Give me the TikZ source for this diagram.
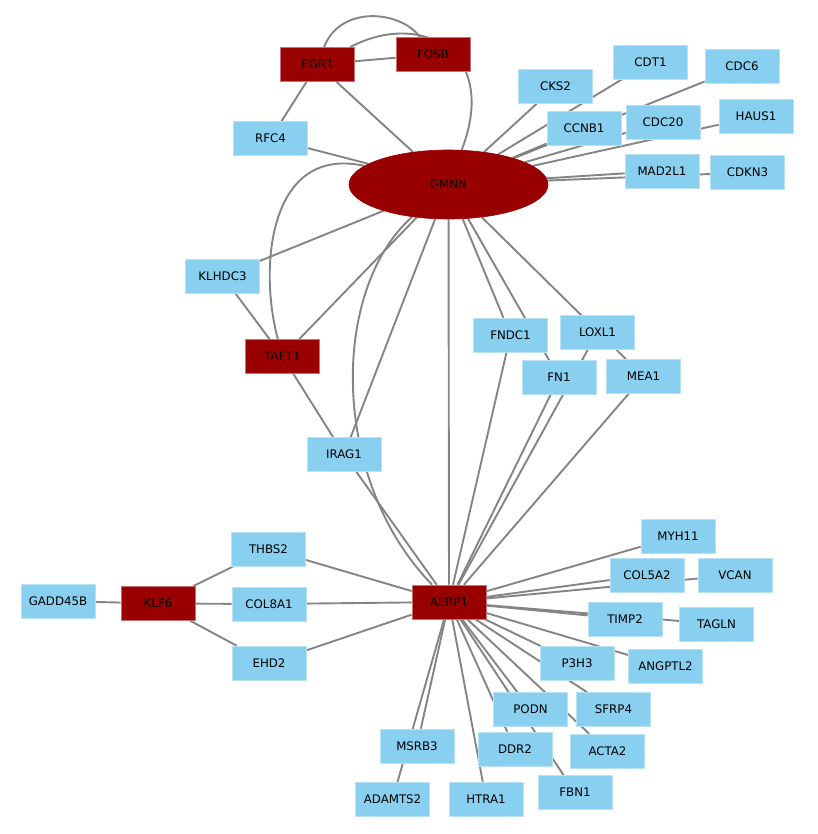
\documentclass[tikz,border=0pt]{standalone}
\usepackage{fontspec}
\setmainfont{DejaVu Sans}
\usepackage{xcolor}
\usetikzlibrary{shapes.geometric,backgrounds}
\definecolor{geneblue}{RGB}{137,207,240}
\definecolor{hubred}{RGB}{153,0,0}
\definecolor{linkgray}{RGB}{132,132,132}

\begin{document}
\begin{tikzpicture}[x=1pt,y=-1pt,
	gene/.style={rectangle,fill=geneblue,draw=geneblue!60!white,line width=0.6pt,minimum width=74pt,minimum height=34pt,inner sep=0pt,font=\fontsize{11.8}{14}\selectfont},
	hub/.style={gene,fill=hubred,draw=hubred!55!white},
	link/.style={draw=linkgray,line width=1.9pt}]
	\useasboundingbox (0,0) rectangle (817,834);

	% top cluster
	\node[hub] (egr1) at (317.5,64.5) {EGR1};
	\node[hub] (fosb) at (433,54.5) {FOSB};
	\node[gene] (rfc4) at (270.5,138.5) {RFC4};
	\node[hub,ellipse,draw=hubred,minimum width=199pt,minimum height=69pt] (gmnn) at (448.5,184.5) {GMNN};
	\node[gene] (cks2) at (555.5,86.5) {CKS2};
	\node[gene] (cdt1) at (650.5,62) {CDT1};
	\node[gene] (cdc6) at (742,66.5) {CDC6};
	\node[gene] (ccnb1) at (584,128) {CCNB1};
	\node[gene] (cdc20) at (663,122) {CDC20};
	\node[gene] (haus1) at (756,116.5) {HAUS1};
	\node[gene] (mad2l1) at (662,171) {MAD2L1};
	\node[gene] (cdkn3) at (747.5,172.5) {CDKN3};
	% middle
	\node[gene] (klhdc3) at (222.5,276) {KLHDC3};
	\node[hub] (taf11) at (282.5,356.5) {TAF11};
	\node[gene] (irag1) at (344,454.5) {IRAG1};
	\node[gene] (fndc1) at (510.5,335) {FNDC1};
	\node[gene] (loxl1) at (597.5,332) {LOXL1};
	\node[gene] (fn1) at (559,377.5) {FN1};
	\node[gene] (mea1) at (643.5,376.5) {MEA1};
	% bottom cluster
	\node[gene] (gadd45b) at (58,601) {GADD45B};
	\node[hub] (klf6) at (158,603.5) {KLF6};
	\node[gene] (thbs2) at (268.5,549) {THBS2};
	\node[gene] (col8a1) at (269,604) {COL8A1};
	\node[gene] (ehd2) at (269,663) {EHD2};
	\node[hub] (aebp1) at (449,602) {AEBP1};
	\node[gene] (myh11) at (678,536) {MYH11};
	\node[gene] (col5a2) at (647,575) {COL5A2};
	\node[gene] (vcan) at (735,575) {VCAN};
	\node[gene] (timp2) at (625,619) {TIMP2};
	\node[gene] (tagln) at (716.5,624) {TAGLN};
	\node[gene] (p3h3) at (577,663.5) {P3H3};
	\node[gene] (angptl2) at (665.5,666) {ANGPTL2};
	\node[gene] (podn) at (530.5,709.5) {PODN};
	\node[gene] (sfrp4) at (613.5,709.5) {SFRP4};
	\node[gene] (msrb3) at (417,746) {MSRB3};
	\node[gene] (ddr2) at (515,749) {DDR2};
	\node[gene] (acta2) at (607.5,751) {ACTA2};
	\node[gene] (adamts2) at (392.5,799.5) {ADAMTS2};
	\node[gene] (htra1) at (486,799) {HTRA1};
	\node[gene] (fbn1) at (575,792.5) {FBN1};

	\begin{scope}[on background layer]
	\draw[link] (egr1) .. controls (340,5) and (400,10) .. (fosb);
	\draw[link] (egr1) .. controls (420,10) and (500,50) .. (gmnn);
	\draw[link] (gmnn) .. controls (270,145) and (258,265) .. (taf11);
	\draw[link] (gmnn) .. controls (330,290) and (330,480) .. (aebp1);
	\draw[link] (egr1) edge (fosb)
		(egr1) edge (rfc4)
		(egr1) edge (gmnn)
		(rfc4) edge (gmnn)
		(gmnn) edge (cks2)
		(gmnn) edge (cdt1)
		(gmnn) edge (ccnb1)
		(gmnn) edge (cdc6)
		(gmnn) edge (cdc20)
		(gmnn) edge (haus1)
		(gmnn) edge (mad2l1)
		(gmnn) edge (cdkn3)
		(gmnn) edge (klhdc3)
		(gmnn) edge (taf11)
		(klhdc3) edge (taf11)
		(taf11) edge (irag1)
		(gmnn) edge (irag1)
		(irag1) edge (aebp1)
		(gmnn) edge (aebp1)
		(gmnn) edge (fndc1)
		(gmnn) edge (fn1)
		(gmnn) edge (mea1)
		(fndc1) edge (aebp1)
		(fn1) edge (aebp1)
		(loxl1) edge (aebp1)
		(mea1) edge (aebp1)
		(gadd45b) edge (klf6)
		(klf6) edge (thbs2)
		(klf6) edge (col8a1)
		(klf6) edge (ehd2)
		(thbs2) edge (aebp1)
		(col8a1) edge (aebp1)
		(ehd2) edge (aebp1)
		(aebp1) edge (myh11)
		(aebp1) edge (col5a2)
		(aebp1) edge (vcan)
		(aebp1) edge (timp2)
		(aebp1) edge (tagln)
		(aebp1) edge (p3h3)
		(aebp1) edge (angptl2)
		(aebp1) edge (sfrp4)
		(aebp1) edge (podn)
		(aebp1) edge (ddr2)
		(aebp1) edge (fbn1)
		(aebp1) edge (acta2)
		(aebp1) edge (htra1)
		(aebp1) edge (msrb3)
		(aebp1) edge (adamts2);
	\end{scope}
\end{tikzpicture}
\end{document}
